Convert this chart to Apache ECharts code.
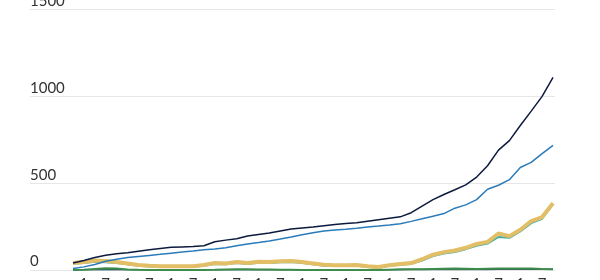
<!DOCTYPE html>
<html>
<head>
<meta charset="utf-8">
<script src="https://cdn.jsdelivr.net/npm/echarts@6/dist/echarts.min.js"></script>
<style>html,body{margin:0;padding:0;background:#fff;}#c{width:600px;height:280px;}</style>
</head>
<body>
<div id="c"></div>
<script>
var yTicks = [0, 500, 1000, 1500];
var tickLabels = ['1','7','1','7','1','7','1','7','1','7','1','7','1','7','1','7','1','7','1','7','1','7'];
var tickPositions = [1,3,5,7,9,11,13,15,17,19,21,23,25,27,29,31,33,35,37,39,41,43];

var navy = [40,55,72,85,93,100,108,116,124,131,133,135,140,163,172,180,196,205,213,225,236,242,248,255,262,268,272,281,290,298,306,330,368,405,435,462,490,535,600,690,745,832,915,1000,1109];
var blue = [8,18,32,50,62,72,78,84,90,97,103,109,116,121,128,140,150,158,167,178,190,203,215,225,231,235,240,248,253,259,266,280,295,310,325,356,375,405,465,488,520,590,620,670,718];
var yellow = [40,46,55,52,46,38,29,24,22,22,22,22,29,40,38,46,40,48,46,50,52,46,38,30,28,28,29,22,17,28,35,40,62,88,103,112,128,150,162,210,195,232,282,305,385];
var teal = [36,40,48,45,40,33,25,20,18,18,18,18,24,35,33,40,35,42,40,44,46,40,33,25,23,23,24,17,12,24,30,35,55,80,95,104,120,140,152,190,185,222,270,295,378];
var green = [0,2,6,10,8,3,1,0,0,0,0,0,0,1,3,4,4,3,3,2,1,0,0,0,0,0,0,0,0,2,4,5,5,6,7,8,7,6,7,8,8,9,8,6,5];
var slate = [2,2,2,2,2,2,2,2,2,2,2,2,2,2,2,2,2,2,2,2,2,2,2,2,2,2,2,2,2,2,2,3,3,3,3,3,3,3,3,4,4,4,4,4,5];

function pairs(arr){ return arr.map(function(v,i){ return [i, v]; }); }

var chart = echarts.init(document.getElementById('c'), null, {renderer:'canvas'});
var lineBase = {type:'line', showSymbol:false, symbol:'none', animation:false, silent:true};
chart.setOption({
  animation:false,
  grid:{left:30, right:45, top:9.5, bottom:10, containLabel:false, outerBoundsMode:'none'},
  xAxis:{
    type:'value', min:-3.94, max:44.18,
    axisLine:{show:false}, axisTick:{show:false}, splitLine:{show:false},
    axisLabel:{
      customValues: tickPositions,
      margin:7,
      fontFamily:'Lato', fontSize:15, color:'#333',
      formatter:function(v){ var k = tickPositions.indexOf(Math.round(v)); return k>=0 ? tickLabels[k] : ''; }
    }
  },
  yAxis:{
    type:'value', min:0, max:1500, interval:500,
    axisLine:{show:false}, axisTick:{show:false},
    splitLine:{lineStyle:{color:'#e6e6e6', width:1}},
    axisLabel:{
      inside:true, margin:0, verticalAlign:'bottom', align:'left',
      padding:[0,0,1,0],
      fontFamily:'Lato', fontSize:15, color:'#333',
      formatter:function(v){ return yTicks.indexOf(v)>=0 ? String(v) : ''; }
    }
  },
  series:[
    Object.assign({}, lineBase, {name:'slate', data:pairs(slate), lineStyle:{color:'#2f5566', width:1.5}, z:1}),
    Object.assign({}, lineBase, {name:'green', data:pairs(green), lineStyle:{color:'#3d8c4c', width:2}, z:2}),
    Object.assign({}, lineBase, {name:'teal', data:pairs(teal), lineStyle:{color:'#45aea4', width:2}, z:3}),
    Object.assign({}, lineBase, {name:'yellow', data:pairs(yellow), lineStyle:{color:'#e2bf66', width:4}, z:4}),
    Object.assign({}, lineBase, {name:'blue', data:pairs(blue), lineStyle:{color:'#2b7bba', width:1.5}, z:5}),
    Object.assign({}, lineBase, {name:'navy', data:pairs(navy), lineStyle:{color:'#0c1a3d', width:1.5}, z:6})
  ]
});
</script>
</body>
</html>
